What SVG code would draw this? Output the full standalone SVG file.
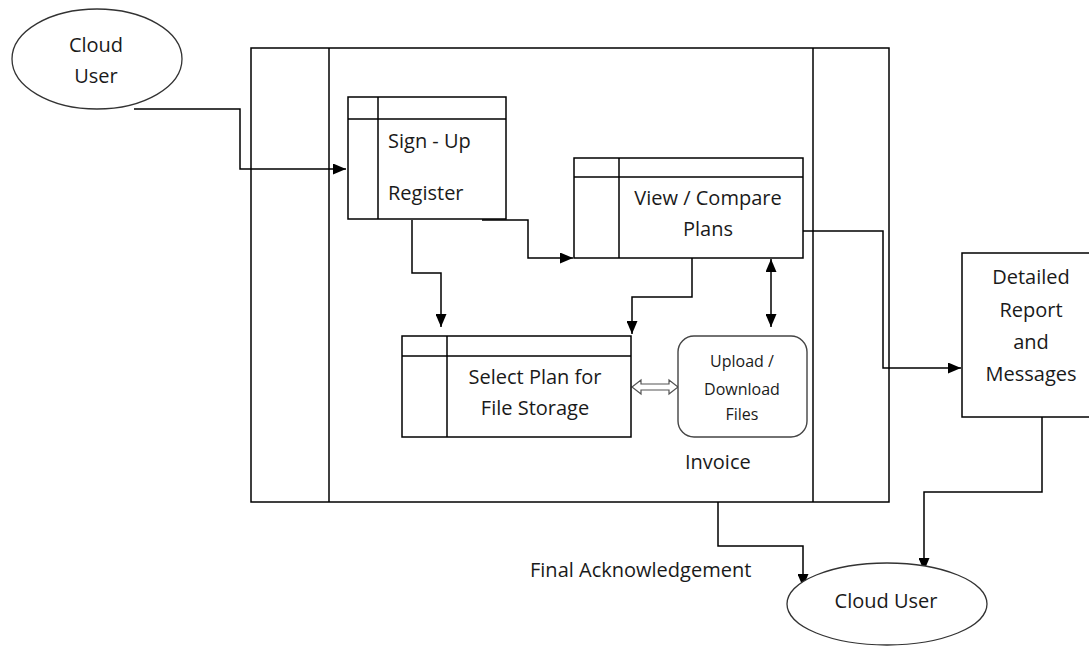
<svg xmlns="http://www.w3.org/2000/svg" width="1089" height="646" viewBox="0 0 1089 646">
  <style>
    .shape { fill: #ffffff; stroke: #000000; stroke-width: 1.5; }
    .oval { fill: #ffffff; stroke: #333333; stroke-width: 1.3; }
    .line { fill: none; stroke: #000000; stroke-width: 1.5; }
    .label { font-family: "Open Sans", "Liberation Sans", sans-serif; font-size: 20px; fill: #1a1a1a; }
    .small { font-size: 16px; }
    .mid { text-anchor: middle; }
  </style>
  <defs>
    <marker id="arrow" viewBox="0 0 13 11" refX="13" refY="5.5" markerWidth="13" markerHeight="11" markerUnits="userSpaceOnUse" orient="auto-start-reverse">
      <path d="M0,0 L13,5.5 L0,11 Z" fill="#000000"/>
    </marker>
  </defs>

  <rect width="1089" height="646" fill="#ffffff"/>

  <!-- system boundary with its two side lanes -->
  <g id="system">
    <rect class="shape" x="251" y="48" width="638" height="454"/>
    <line class="line" x1="329" y1="48" x2="329" y2="502"/>
    <line class="line" x1="813" y1="48" x2="813" y2="502"/>
  </g>

  <g id="connectors">
    <path class="line" d="M134,109 H240 V169 H346" marker-end="url(#arrow)"/>
    <path class="line" d="M482,220 H528 V258 H573" marker-end="url(#arrow)"/>
    <path class="line" d="M412,220 V273 H441 V327" marker-end="url(#arrow)"/>
    <path class="line" d="M692,258 V297 H632 V334" marker-end="url(#arrow)"/>
    <path class="line" d="M771,259 V327" marker-start="url(#arrow)" marker-end="url(#arrow)"/>
    <polygon points="632,387 641,380 641,384 669,384 669,380 678,387 669,394 669,390 641,390 641,394" fill="#ffffff" stroke="#555555" stroke-width="1.2"/>
    <path class="line" d="M803,231 H883 V368 H961" marker-end="url(#arrow)"/>
    <path class="line" d="M718,502 V546 H803 V587" marker-end="url(#arrow)"/>
    <path class="line" d="M1042,417 V492 H924 V571" marker-end="url(#arrow)"/>
  </g>

  <g id="cloud-user-top">
    <ellipse class="oval" cx="97" cy="59" rx="85" ry="50"/>
    <text class="label mid" x="96" y="52">Cloud</text>
    <text class="label mid" x="96" y="83">User</text>
  </g>

  <g id="sign-up">
    <rect class="shape" x="348" y="97" width="158" height="122"/>
    <line class="line" x1="348" y1="119" x2="506" y2="119"/>
    <line class="line" x1="378" y1="97" x2="378" y2="219"/>
    <text class="label" x="388" y="148">Sign - Up</text>
    <text class="label" x="388" y="200">Register</text>
  </g>

  <g id="view-compare">
    <rect class="shape" x="574" y="158" width="229" height="100"/>
    <line class="line" x1="574" y1="177" x2="803" y2="177"/>
    <line class="line" x1="619" y1="158" x2="619" y2="258"/>
    <text class="label mid" x="708" y="205">View / Compare</text>
    <text class="label mid" x="708" y="236">Plans</text>
  </g>

  <g id="select-plan">
    <rect class="shape" x="402" y="336" width="229" height="101"/>
    <line class="line" x1="402" y1="356" x2="631" y2="356"/>
    <line class="line" x1="447" y1="336" x2="447" y2="437"/>
    <text class="label mid" x="535" y="384">Select Plan for</text>
    <text class="label mid" x="535" y="415">File Storage</text>
  </g>

  <g id="upload-download">
    <rect x="678" y="336" width="129" height="101" rx="16" ry="16" fill="#ffffff" stroke="#444444" stroke-width="1.4"/>
    <text class="label small mid" x="742" y="367">Upload /</text>
    <text class="label small mid" x="742" y="395">Download</text>
    <text class="label small mid" x="742" y="420">Files</text>
  </g>

  <g id="invoice">
    <text class="label" x="685" y="469">Invoice</text>
  </g>

  <g id="detailed-report">
    <rect class="shape" x="962" y="253" width="140" height="164"/>
    <text class="label mid" x="1031" y="284">Detailed</text>
    <text class="label mid" x="1031" y="317">Report</text>
    <text class="label mid" x="1031" y="349">and</text>
    <text class="label mid" x="1031" y="381">Messages</text>
  </g>

  <g id="final-ack">
    <text class="label" x="530" y="577">Final Acknowledgement</text>
  </g>

  <g id="cloud-user-bottom">
    <ellipse class="oval" cx="887" cy="604" rx="100" ry="41"/>
    <text class="label mid" x="886" y="608">Cloud User</text>
  </g>
</svg>
